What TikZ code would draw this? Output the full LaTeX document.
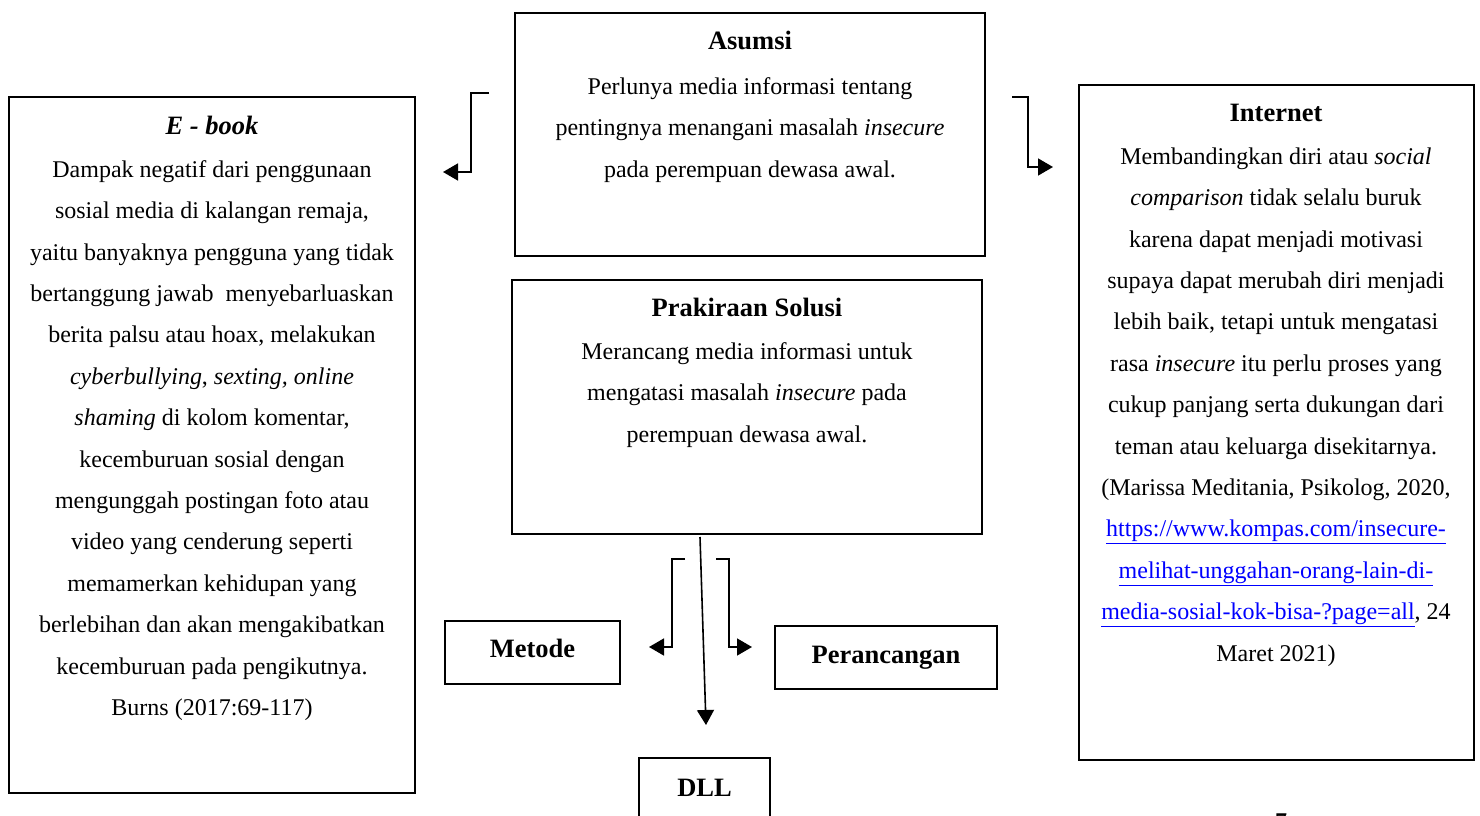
\documentclass[tikz,border=0pt]{standalone}
\usepackage{fontspec}
\setmainfont{Liberation Serif}
\usetikzlibrary{arrows.meta}
\definecolor{linkblue}{RGB}{0,0,255}
\newcommand{\lnk}[1]{\textcolor{linkblue}{\underline{#1}}}
\begin{document}
\begin{tikzpicture}[x=1pt,y=-1pt,
  box/.style={draw=black,line width=1.6pt,rectangle,inner sep=0pt},
  ttl/.style={anchor=base,inner sep=0pt,font=\fontsize{26.5}{30}\selectfont\bfseries},
  body/.style={anchor=north,inner sep=0pt,align=center,font=\fontsize{24}{41.4}\selectfont},
  conn/.style={line width=1.6pt,-{Triangle[length=15pt,width=17pt]}}]
\useasboundingbox (0,0) rectangle (1480,816);
\clip (0,0) rectangle (1480,816);
% boxes
\node[box,minimum width=470pt,minimum height=243pt] (asumsi) at (750,134.5) {};
\node[box,minimum width=406pt,minimum height=696pt] (ebook) at (212,445) {};
\node[box,minimum width=395pt,minimum height=675pt] (internet) at (1276.5,422.5) {};
\node[box,minimum width=470pt,minimum height=254pt] (solusi) at (747,407) {};
\node[box,minimum width=175pt,minimum height=63pt] (metode) at (532.5,652.5) {};
\node[box,minimum width=222pt,minimum height=63pt] (perancangan) at (886,657.5) {};
\node[box,minimum width=131pt,minimum height=100pt] (dll) at (704.5,808) {};
% titles
\node[ttl] (asumsiT) at (750,49) {Asumsi};
\node[ttl] (ebookT) at (212,134) {\itshape E - book};
\node[ttl] (internetT) at (1276,121) {Internet};
\node[ttl] (solusiT) at (747,316) {Prakiraan Solusi};
\node[ttl] (metodeT) at (532.5,657) {Metode};
\node[ttl] (perancanganT) at (886,663) {Perancangan};
\node[ttl] (dllT) at (704.5,796) {DLL};
% bodies
\node[body] (asumsiB) at (750,94-28.98) {\strut Perlunya media informasi tentang\\
pentingnya menangani masalah \textit{insecure}\\
pada perempuan dewasa awal.};
\node[body] (ebookB) at (212,177-28.98) {\strut Dampak negatif dari penggunaan\\
sosial media di kalangan remaja,\\
yaitu banyaknya pengguna yang tidak\\
bertanggung jawab\ \ menyebarluaskan\\
berita palsu atau hoax, melakukan\\
\textit{cyberbullying}, \textit{sexting, online}\\
\textit{shaming} di kolom komentar,\\
kecemburuan sosial dengan\\
mengunggah postingan foto atau\\
video yang cenderung seperti\\
memamerkan kehidupan yang\\
berlebihan dan akan mengakibatkan\\
kecemburuan pada pengikutnya.\\
Burns (2017:69-117)};
\node[body] (internetB) at (1276,164-28.98) {\strut Membandingkan diri atau \textit{social}\\
\textit{comparison} tidak selalu buruk\\
karena dapat menjadi motivasi\\
supaya dapat merubah diri menjadi\\
lebih baik, tetapi untuk mengatasi\\
rasa \textit{insecure} itu perlu proses yang\\
cukup panjang serta dukungan dari\\
teman atau keluarga disekitarnya.\\
(Marissa Meditania, Psikolog, 2020,\\
\lnk{https://www.kompas.com/insecure-}\\
\lnk{melihat-unggahan-orang-lain-di-}\\
\lnk{media-sosial-kok-bisa-?page=all}, 24\\
Maret 2021)};
\node[body] (solusiB) at (747,359-28.98) {\strut Merancang media informasi untuk\\
mengatasi masalah \textit{insecure} pada\\
perempuan dewasa awal.};
% page number (cut off)
\node[anchor=base,inner sep=0pt,font=\fontsize{24}{28}\selectfont\bfseries] (pagenum) at (1281,829) {7};
% connectors
\coordinate (aL1) at (489,93);
\coordinate (aL2) at (471,172);
\coordinate (aL3) at (443,172);
\coordinate (aR1) at (1012,97);
\coordinate (aR2) at (1028,167);
\coordinate (aR3) at (1053,167);
\coordinate (s1) at (700,537);
\coordinate (s2) at (706,725);
\coordinate (m1) at (685,559);
\coordinate (m2) at (672,647);
\coordinate (m3) at (649,647);
\coordinate (p1) at (716,559);
\coordinate (p2) at (729,647);
\coordinate (p3) at (752,647);
\draw[conn] (aL1) -| (aL2) -- (aL3);
\draw[conn] (aR1) -| (aR2) -- (aR3);
\draw[conn] (s1) -- (s2);
\draw[conn] (m1) -| (m2) -- (m3);
\draw[conn] (p1) -| (p2) -- (p3);
\end{tikzpicture}
\end{document}
